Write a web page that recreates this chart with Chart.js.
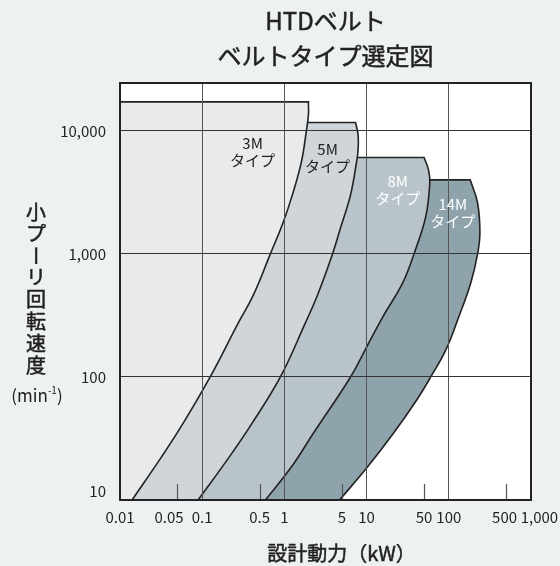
<!DOCTYPE html>
<html>
<head>
<meta charset="utf-8">
<script src="https://cdn.jsdelivr.net/npm/chart.js@4/dist/chart.umd.min.js"></script>
<style>
  html, body { margin: 0; padding: 0; background: #eef1f2; }
  canvas { display: block; }
</style>
</head>
<body>
<canvas id="c" width="560" height="566"></canvas>
<script>
// ---- texts ----
const titleLines = ['HTDベルト', 'ベルトタイプ選定図'];
const xAxisTitle = '設計動力（kW）';
const yAxisTitleChars = ['小', 'プ', 'ー', 'リ', '回', '転', '速', '度'];
const yAxisUnit = ['(min', '-1', ')'];

// ---- axes ----
const xTickValues = [0.01, 0.05, 0.1, 0.5, 1, 5, 10, 50, 100, 500, 1000];
const xTickLabels = ['0.01', '0.05     ', '0.1', '0.5', '1', '5', '10', '50', '100', '500 ', '     1,000'];
const xGridValues = [0.1, 1, 10, 100];
const xMinorTicks = [0.05, 0.5, 5, 50, 500];
const yTickValues = [10, 100, 1000, 10000];
const yTickLabels = [['10', ''], '100', '1,000', '10,000'];
const yGridValues = [100, 1000, 10000];
const X_MIN = 0.01, X_MAX = 1000, Y_MIN = 10, Y_MAX = 24500;

// ---- belt type regions: right boundary, from top corner down to the bottom axis ----
const bandNames = ['3M', '5M', '8M', '14M'];
const kW_3M  = [1.96, 1.96, 1.85, 1.61, 1.25, 0.97, 0.675, 0.42, 0.275, 0.125, 0.059, 0.032, 0.014];
const rpm_3M = [17200, 13500, 10000, 5600, 3020, 1820, 1000, 464, 275, 100, 42.3, 22.4, 10];
const kW_5M  = [7.34, 7.88, 7.88, 7.55, 6.38, 4.82, 3.85, 2.53, 1.80, 0.894, 0.407, 0.214, 0.089];
const rpm_5M = [11700, 9280, 7000, 5600, 3020, 1630, 1000, 464, 275, 100, 42.3, 22.4, 10];
const kW_8M  = [50, 56.6, 58.7, 52.4, 37.7, 27.5, 15.7, 10.0, 6.38, 2.26, 1.22, 0.587];
const rpm_8M = [6070, 4820, 3760, 2010, 1000, 581, 307, 175, 100, 35, 18.6, 10];
const kW_14M  = [182, 224, 239, 224, 185, 132, 92, 60.3, 40.7, 21.3, 10.3, 4.69];
const rpm_14M = [4000, 2600, 1480, 1000, 581, 307, 166, 100, 65, 35, 18.6, 10];

// label anchors (kW, rpm)
const bandLabelKW  = [0.41, 3.35, 23.9, 112];
const bandLabelRpm = [6700, 6000, 3350, 2150];

const bandFill = ['#e9eaec', '#d0d5d9', '#b9c4ca', '#8ea3ab'];
const bandLabelColor = ['#222222', '#222222', '#ffffff', '#ffffff'];

const FONT = '"Noto Sans CJK JP", "Noto Sans", sans-serif';
Chart.defaults.font.family = FONT;
Chart.defaults.color = '#222';

// closed outline: left axis at top height -> top edge -> right boundary -> bottom axis
// (corner and foot repeated so the bezier keeps them sharp)
function regionPoints(kw, rpm) {
  const n = kw.length;
  const pts = [{ x: X_MIN, y: rpm[0] }];
  pts.push({ x: kw[0], y: rpm[0] });
  kw.forEach((v, i) => pts.push({ x: v, y: rpm[i] }));
  pts.push({ x: kw[n - 1], y: rpm[n - 1] });
  pts.push({ x: X_MIN, y: Y_MIN });
  return pts;
}

const bandSeries = [[kW_3M, rpm_3M], [kW_5M, rpm_5M], [kW_8M, rpm_8M], [kW_14M, rpm_14M]];
const datasets = bandSeries.map((s, i) => ({
  label: bandNames[i],
  data: regionPoints(s[0], s[1]),
  backgroundColor: bandFill[i],
  borderColor: '#222',
  borderWidth: 1.6,
  fill: 'shape',
  tension: 0.4,
  pointRadius: 0
}));

function boldText(ctx, t, x, y) {
  ctx.fillText(t, x, y);
  ctx.strokeText(t, x, y);
}

const decor = {
  id: 'decor',
  beforeDraw(chart) {
    const { ctx, chartArea: a } = chart;
    ctx.save();
    ctx.fillStyle = '#ffffff';
    ctx.fillRect(a.left, a.top, a.right - a.left, a.bottom - a.top);
    ctx.restore();
  },
  afterDraw(chart) {
    const { ctx, chartArea: a, scales: { x, y } } = chart;
    ctx.save();
    // minor ticks
    ctx.strokeStyle = '#555';
    ctx.lineWidth = 1.2;
    xMinorTicks.forEach(v => {
      const px = Math.round(x.getPixelForValue(v)) + 0.5;
      ctx.beginPath();
      ctx.moveTo(px, a.bottom);
      ctx.lineTo(px, a.bottom - 16);
      ctx.stroke();
    });
    // band labels
    ctx.font = '15px ' + FONT;
    ctx.textAlign = 'center';
    ctx.textBaseline = 'middle';
    bandNames.forEach((n, i) => {
      const px = x.getPixelForValue(bandLabelKW[i]);
      const py = y.getPixelForValue(bandLabelRpm[i]);
      ctx.fillStyle = bandLabelColor[i];
      ctx.fillText(n, px, py - 8.5);
      ctx.fillText('タイプ', px, py + 8.5);
    });
    // frame
    ctx.strokeStyle = '#222';
    ctx.lineWidth = 2;
    ctx.strokeRect(a.left, a.top, a.right - a.left, a.bottom - a.top);
    // chart title
    const cx = (a.left + a.right) / 2;
    ctx.fillStyle = '#222';
    ctx.strokeStyle = '#222';
    ctx.lineWidth = 0.5;
    ctx.font = '24px ' + FONT;
    boldText(ctx, titleLines[0], cx, 21);
    boldText(ctx, titleLines[1], cx, 56);
    // x axis title
    ctx.font = '20px ' + FONT;
    boldText(ctx, xAxisTitle, cx + 16, 553);
    // y axis title (vertical)
    ctx.font = '20px ' + FONT;
    yAxisTitleChars.forEach((ch, i) => {
      const ty = 212 + i * 21.9;
      if (ch === 'ー') {
        ctx.save();
        ctx.translate(36, ty);
        ctx.rotate(Math.PI / 2);
        boldText(ctx, ch, 0, 0);
        ctx.restore();
      } else {
        boldText(ctx, ch, 36, ty);
      }
    });
    // unit
    ctx.textAlign = 'left';
    ctx.font = '17px ' + FONT;
    const w1 = ctx.measureText(yAxisUnit[0]).width;
    const w3 = ctx.measureText(yAxisUnit[2]).width;
    ctx.font = '10px ' + FONT;
    const w2 = ctx.measureText(yAxisUnit[1]).width;
    let sx = 37 - (w1 + w2 + w3) / 2;
    ctx.font = '17px ' + FONT;
    ctx.fillText(yAxisUnit[0], sx, 396);
    ctx.font = '10px ' + FONT;
    ctx.fillText(yAxisUnit[1], sx + w1, 390);
    ctx.font = '17px ' + FONT;
    ctx.fillText(yAxisUnit[2], sx + w1 + w2, 396);
    ctx.restore();
  }
};

new Chart(document.getElementById('c'), {
  type: 'line',
  data: { datasets },
  options: {
    responsive: false,
    animation: false,
    events: [],
    layout: { padding: { top: 83, right: 29, bottom: 0, left: 0 } },
    plugins: { legend: { display: false }, tooltip: { enabled: false }, title: { display: false } },
    scales: {
      x: {
        type: 'logarithmic',
        min: X_MIN, max: X_MAX,
        afterBuildTicks: s => { s.ticks = xTickValues.map(v => ({ value: v })); },
        afterFit: s => { s.height = 66; s.paddingLeft = 0; s.paddingRight = 0; },
        ticks: {
          autoSkip: false, maxRotation: 0, minRotation: 0, padding: 8,
          color: '#222', font: { size: 15 },
          callback: (v, i) => xTickLabels[i]
        },
        grid: {
          z: 1, drawTicks: false, lineWidth: 1,
          color: c => (c.tick && xGridValues.includes(c.tick.value)) ? '#555' : 'rgba(0,0,0,0)'
        },
        border: { display: false }
      },
      y: {
        type: 'logarithmic',
        min: Y_MIN, max: Y_MAX,
        afterBuildTicks: s => { s.ticks = yTickValues.map(v => ({ value: v })); },
        afterFit: s => { s.width = 120; s.paddingTop = 0; s.paddingBottom = 0; },
        ticks: {
          autoSkip: false, padding: 14,
          color: '#222', font: { size: 15 },
          callback: (v, i) => yTickLabels[i]
        },
        grid: {
          z: 1, drawTicks: false, lineWidth: 1,
          color: c => (c.tick && yGridValues.includes(c.tick.value)) ? '#333' : 'rgba(0,0,0,0)'
        },
        border: { display: false }
      }
    }
  },
  plugins: [decor]
});
</script>
</body>
</html>
